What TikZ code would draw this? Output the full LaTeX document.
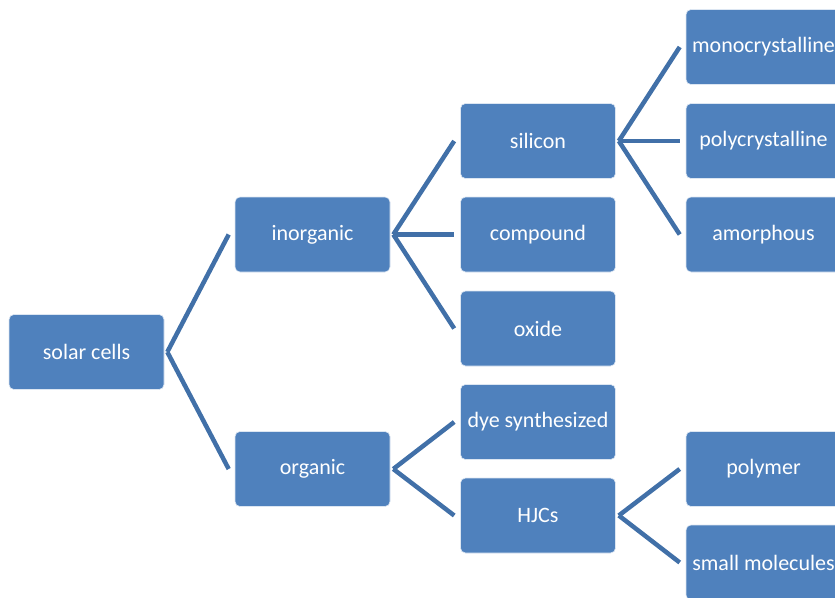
\documentclass[tikz,border=0pt]{standalone}
\usepackage{fontspec}
\setmainfont{Carlito}
\definecolor{boxblue}{RGB}{79,129,189}
\definecolor{linkblue}{RGB}{65,112,168}
\tikzset{
  cellbox/.style={rectangle, rounded corners=5pt, fill=boxblue, draw=white!80!boxblue,
    line width=0.6pt, minimum width=155pt, minimum height=75pt, inner sep=0pt,
    text=white, font=\fontsize{22}{24}\selectfont},
  link/.style={linkblue, line width=4.5pt}
}
\begin{document}
\begin{tikzpicture}[x=1pt,y=-1pt]
  % page frame, same size as the reference
  \useasboundingbox (0,0) rectangle (835,597);
  \clip (0,0) rectangle (835,597);

  % first level
  \node[cellbox] (solar) at (86.5,352) {solar cells};

  % second level
  \node[cellbox] (inorg) at (312.5,234.5) {inorganic};
  \node[cellbox] (org)   at (312.5,469)   {organic};

  % third level
  \node[cellbox] (sil)   at (538,141)   {silicon};
  \node[cellbox] (comp)  at (538,234.5) {compound};
  \node[cellbox] (oxide) at (538,328.5) {oxide};
  \node[cellbox] (dye)   at (538,422)   {dye synthesized};
  \node[cellbox] (hjc)   at (538,515.5) {HJCs};

  % fourth level
  \node[cellbox] (mono)  at (763.5,47)    {monocrystalline};
  \node[cellbox] (poly)  at (763.5,141)   {polycrystalline};
  \node[cellbox] (amor)  at (763.5,234.5) {amorphous};
  \node[cellbox] (polym) at (763.5,469)   {polymer};
  \node[cellbox] (small) at (763.5,562.5) {small molecules};

  % connectors, parent to child
  \foreach \p/\c in {solar/inorg, solar/org,
                     inorg/sil, inorg/comp, inorg/oxide,
                     org/dye, org/hjc,
                     sil/mono, sil/poly, sil/amor,
                     hjc/polym, hjc/small}
    \draw[link] ([xshift=3pt]\p.east) -- ([xshift=-6pt]\c.west);
\end{tikzpicture}
\end{document}
